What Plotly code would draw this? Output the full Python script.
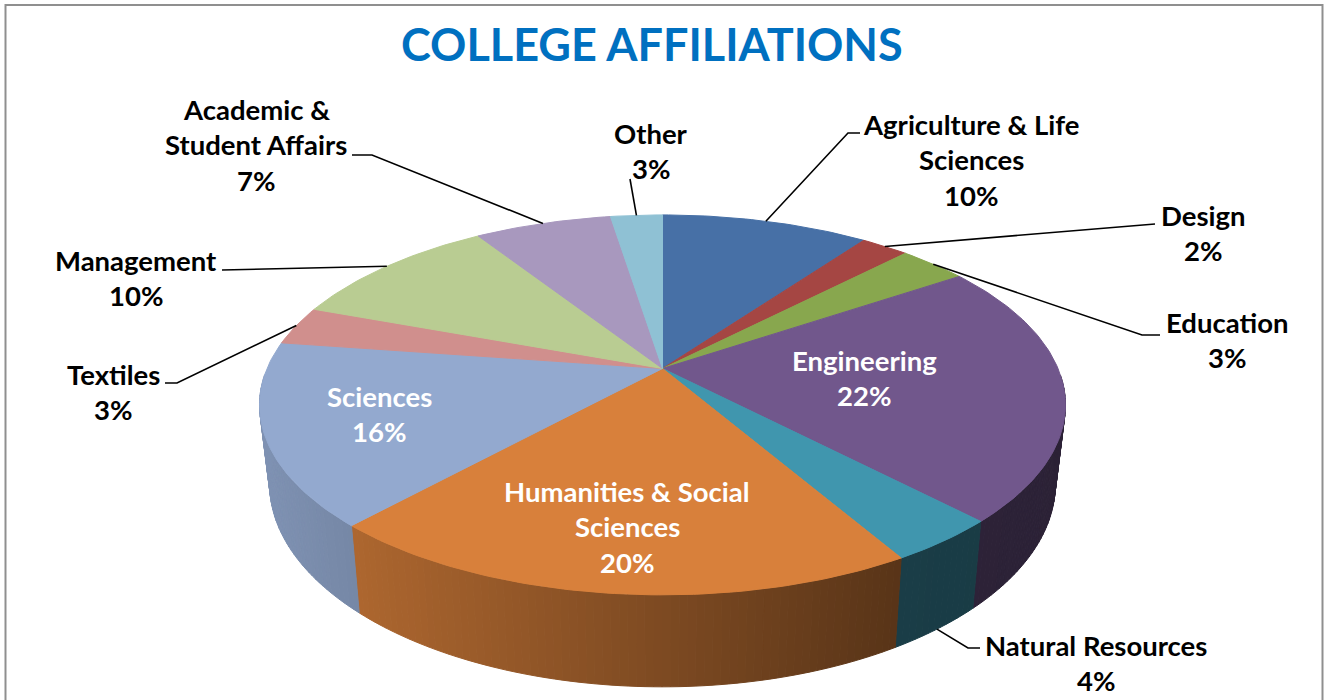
import numpy as np
import plotly.graph_objects as go

# ---- data ----
categories = ["Agriculture & Life Sciences", "Design", "Education", "Engineering",
              "Natural Resources", "Humanities & Social Sciences", "Sciences",
              "Textiles", "Management", "Academic & Student Affairs", "Other"]
printed_percent = [10, 2, 3, 22, 4, 20, 16, 3, 10, 7, 3]
slice_share = [10.0, 2.3, 3.3, 22.2, 3.8, 20.2, 15.5, 3.3, 10.3, 6.6, 2.5]
top_colors = ["#4770A6", "#A54643", "#88A74E", "#71578C", "#4096AE", "#D8803B",
              "#93A9CF", "#D08F8D", "#B9CC92", "#A898BE", "#8FC1D4"]

# ---- layout / style ----
label_lines = [["Agriculture & Life", "Sciences"], ["Design"], ["Education"], ["Engineering"],
               ["Natural Resources"], ["Humanities & Social", "Sciences"], ["Sciences"],
               ["Textiles"], ["Management"], ["Academic &", "Student Affairs"], ["Other"]]
label_center = [(971, 124), (1203, 215), (1227, 322), (864, 360), (1096, 645), (627, 491),
                (379, 396), (113, 374), (136, 260), (256, 109), (651, 133)]
label_white = [False, False, False, True, False, True, True, False, False, False, False]
leader_elbows = {0: [(848, 133), (860, 133)], 1: [(1155, 224)], 2: [(1142, 335), (1160, 335)],
                 4: [(968, 648), (980, 648)], 7: [(177, 383), (165, 383)], 8: [(222, 270)],
                 9: [(372, 155), (352, 155)], 10: [(630, 179)]}
LINE_GAP = 35.7
FONT = "Lato, Carlito, Calibri, sans-serif"
FS = 27.5

# perspective projection of the disc
CX, K = 662.5, 0.1916
TOP = dict(ay=368.5, a=395.5, b=183.0)
BOT = dict(ay=445.0, a=395.5 * 0.975, b=195.5)


def rim(theta, ring):
    c, s = np.cos(theta), np.sin(theta)
    d = 1 + K * c
    return CX + ring["a"] * s / d, ring["ay"] - ring["b"] * c / d


edges = np.radians(np.concatenate([[0], np.cumsum(slice_share)]) * 3.6)
edges[-1] = 2 * np.pi

fig = go.Figure()


def poly(xs, ys, color):
    fig.add_trace(go.Scatter(x=xs, y=ys, mode="lines", fill="toself", fillcolor=color,
                             line=dict(color=color, width=1), hoverinfo="skip", showlegend=False))


def shade(x):
    return np.interp(x, [259, 360, 900, 1066], [0.87, 0.80, 0.41, 0.39])


# side wall, in thin strips for the light gradient
wall_from, wall_to = np.radians(92), np.radians(268)
for i, col in enumerate(top_colors):
    lo, hi = max(edges[i], wall_from), min(edges[i + 1], wall_to)
    if hi <= lo:
        continue
    n = max(2, int(np.degrees(hi - lo) / 1.0))
    ts = np.linspace(lo, hi, n + 1)
    r, g, b = int(col[1:3], 16), int(col[3:5], 16), int(col[5:7], 16)
    for t0, t1 in zip(ts[:-1], ts[1:]):
        x0, y0 = rim(t0, TOP)
        x1, y1 = rim(t1, TOP)
        x2, y2 = rim(t1, BOT)
        x3, y3 = rim(t0, BOT)
        f = shade((x0 + x1 + x2 + x3) / 4)
        poly([x0, x1, x2, x3, x0], [y0, y1, y2, y3, y0],
             f"rgb({int(r * f)},{int(g * f)},{int(b * f)})")

# top face
for i, col in enumerate(top_colors):
    ts = np.linspace(edges[i], edges[i + 1], max(4, int(np.degrees(edges[i + 1] - edges[i]))))
    xs, ys = rim(ts, TOP)
    poly(np.r_[CX, xs, CX], np.r_[TOP["ay"], ys, TOP["ay"]], col)

# leader lines start at the rim, at each slice's middle
for i, elbow in leader_elbows.items():
    mid = (edges[i] + edges[i + 1]) / 2
    x0, y0 = rim(mid, BOT if i == 4 else TOP)
    fig.add_trace(go.Scatter(x=[x0] + [p[0] for p in elbow], y=[y0] + [p[1] for p in elbow],
                             mode="lines", line=dict(color="#000000", width=1.6),
                             hoverinfo="skip", showlegend=False))

annotations = [dict(x=652, y=44, xref="x", yref="y", text="<b>COLLEGE AFFILIATIONS</b>", showarrow=False,
                    xanchor="center", yanchor="middle", font=dict(family=FONT, size=45, color="#0070C0"))]
for lines, pct, (cx, cy), white in zip(label_lines, printed_percent, label_center, label_white):
    for j, txt in enumerate(lines + [f"{pct}%"]):
        annotations.append(dict(x=cx, y=cy + j * LINE_GAP, xref="x", yref="y", text=f"<b>{txt}</b>",
                                showarrow=False, xanchor="center", yanchor="middle",
                                font=dict(family=FONT, size=FS, color="#FFFFFF" if white else "#000000")))

fig.update_layout(
    width=1329, height=700, margin=dict(l=0, r=0, t=0, b=0), autosize=False,
    paper_bgcolor="#FFFFFF", plot_bgcolor="#FFFFFF", showlegend=False,
    xaxis=dict(range=[0, 1329], visible=False, fixedrange=True),
    yaxis=dict(range=[700, 0], visible=False, fixedrange=True),
    annotations=annotations,
    shapes=[dict(type="rect", xref="x", yref="y", x0=5.5, x1=1322.5, y0=5, y1=730,
                 line=dict(color="#8F8F8F", width=2), layer="below")],
)
fig.write_html("out.html", config=dict(displayModeBar=False),
               post_script="document.body.style.margin='0';document.body.style.overflow='hidden';")
